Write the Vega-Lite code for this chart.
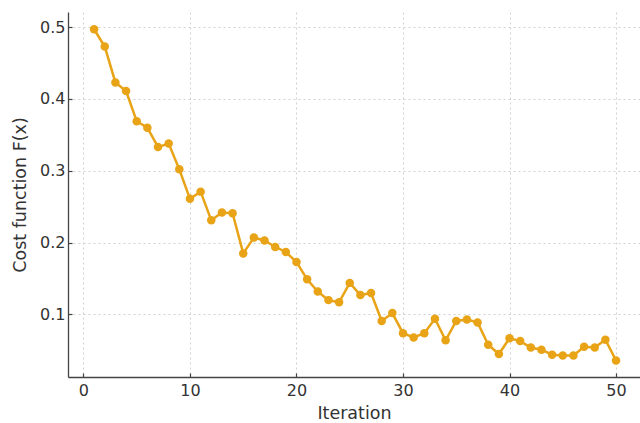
{
  "$schema": "https://vega.github.io/schema/vega-lite/v6.json",
  "autosize": "none",
  "padding": {"left": 68, "top": 12, "right": 0, "bottom": 46},
  "width": 572,
  "height": 365,
  "background": "white",
  "config": {
    "view": {"stroke": null},
    "font": "DejaVu Sans",
    "axis": {
      "labelFont": "DejaVu Sans",
      "titleFont": "DejaVu Sans",
      "labelFontSize": 16,
      "titleFontSize": 17.5,
      "titleFontWeight": "normal",
      "labelColor": "#333333",
      "titleColor": "#333333",
      "domainColor": "#444444",
      "domainWidth": 1.3,
      "tickColor": "#444444",
      "tickSize": -4,
      "tickWidth": 1.2,
      "grid": true,
      "gridColor": "#d0d0d0",
      "gridDash": [2, 3],
      "gridWidth": 1
    }
  },
  "data": {
    "values": [
      {"iteration": 1, "cost": 0.497},
      {"iteration": 2, "cost": 0.473},
      {"iteration": 3, "cost": 0.423},
      {"iteration": 4, "cost": 0.411},
      {"iteration": 5, "cost": 0.369},
      {"iteration": 6, "cost": 0.360},
      {"iteration": 7, "cost": 0.333},
      {"iteration": 8, "cost": 0.338},
      {"iteration": 9, "cost": 0.302},
      {"iteration": 10, "cost": 0.261},
      {"iteration": 11, "cost": 0.271},
      {"iteration": 12, "cost": 0.231},
      {"iteration": 13, "cost": 0.242},
      {"iteration": 14, "cost": 0.241},
      {"iteration": 15, "cost": 0.185},
      {"iteration": 16, "cost": 0.207},
      {"iteration": 17, "cost": 0.203},
      {"iteration": 18, "cost": 0.194},
      {"iteration": 19, "cost": 0.187},
      {"iteration": 20, "cost": 0.173},
      {"iteration": 21, "cost": 0.149},
      {"iteration": 22, "cost": 0.132},
      {"iteration": 23, "cost": 0.120},
      {"iteration": 24, "cost": 0.117},
      {"iteration": 25, "cost": 0.144},
      {"iteration": 26, "cost": 0.127},
      {"iteration": 27, "cost": 0.130},
      {"iteration": 28, "cost": 0.091},
      {"iteration": 29, "cost": 0.102},
      {"iteration": 30, "cost": 0.074},
      {"iteration": 31, "cost": 0.068},
      {"iteration": 32, "cost": 0.074},
      {"iteration": 33, "cost": 0.094},
      {"iteration": 34, "cost": 0.064},
      {"iteration": 35, "cost": 0.091},
      {"iteration": 36, "cost": 0.093},
      {"iteration": 37, "cost": 0.089},
      {"iteration": 38, "cost": 0.058},
      {"iteration": 39, "cost": 0.045},
      {"iteration": 40, "cost": 0.067},
      {"iteration": 41, "cost": 0.063},
      {"iteration": 42, "cost": 0.054},
      {"iteration": 43, "cost": 0.051},
      {"iteration": 44, "cost": 0.044},
      {"iteration": 45, "cost": 0.043},
      {"iteration": 46, "cost": 0.043},
      {"iteration": 47, "cost": 0.055},
      {"iteration": 48, "cost": 0.054},
      {"iteration": 49, "cost": 0.065},
      {"iteration": 50, "cost": 0.036}
    ]
  },
  "mark": {
    "type": "line",
    "color": "#E8A317",
    "strokeWidth": 2.5,
    "point": {"filled": true, "size": 72, "color": "#E8A317", "opacity": 1}
  },
  "encoding": {
    "x": {
      "field": "iteration",
      "type": "quantitative",
      "title": "Iteration",
      "scale": {"domain": [-1.45, 52.25], "nice": false, "zero": false},
      "axis": {"values": [0, 10, 20, 30, 40, 50], "labelPadding": 9, "titlePadding": 6}
    },
    "y": {
      "field": "cost",
      "type": "quantitative",
      "title": "Cost function F(x)",
      "scale": {"domain": [0.013, 0.521], "nice": false, "zero": false},
      "axis": {"values": [0.1, 0.2, 0.3, 0.4, 0.5], "format": ".1f", "labelPadding": 7, "titlePadding": 10}
    }
  }
}
